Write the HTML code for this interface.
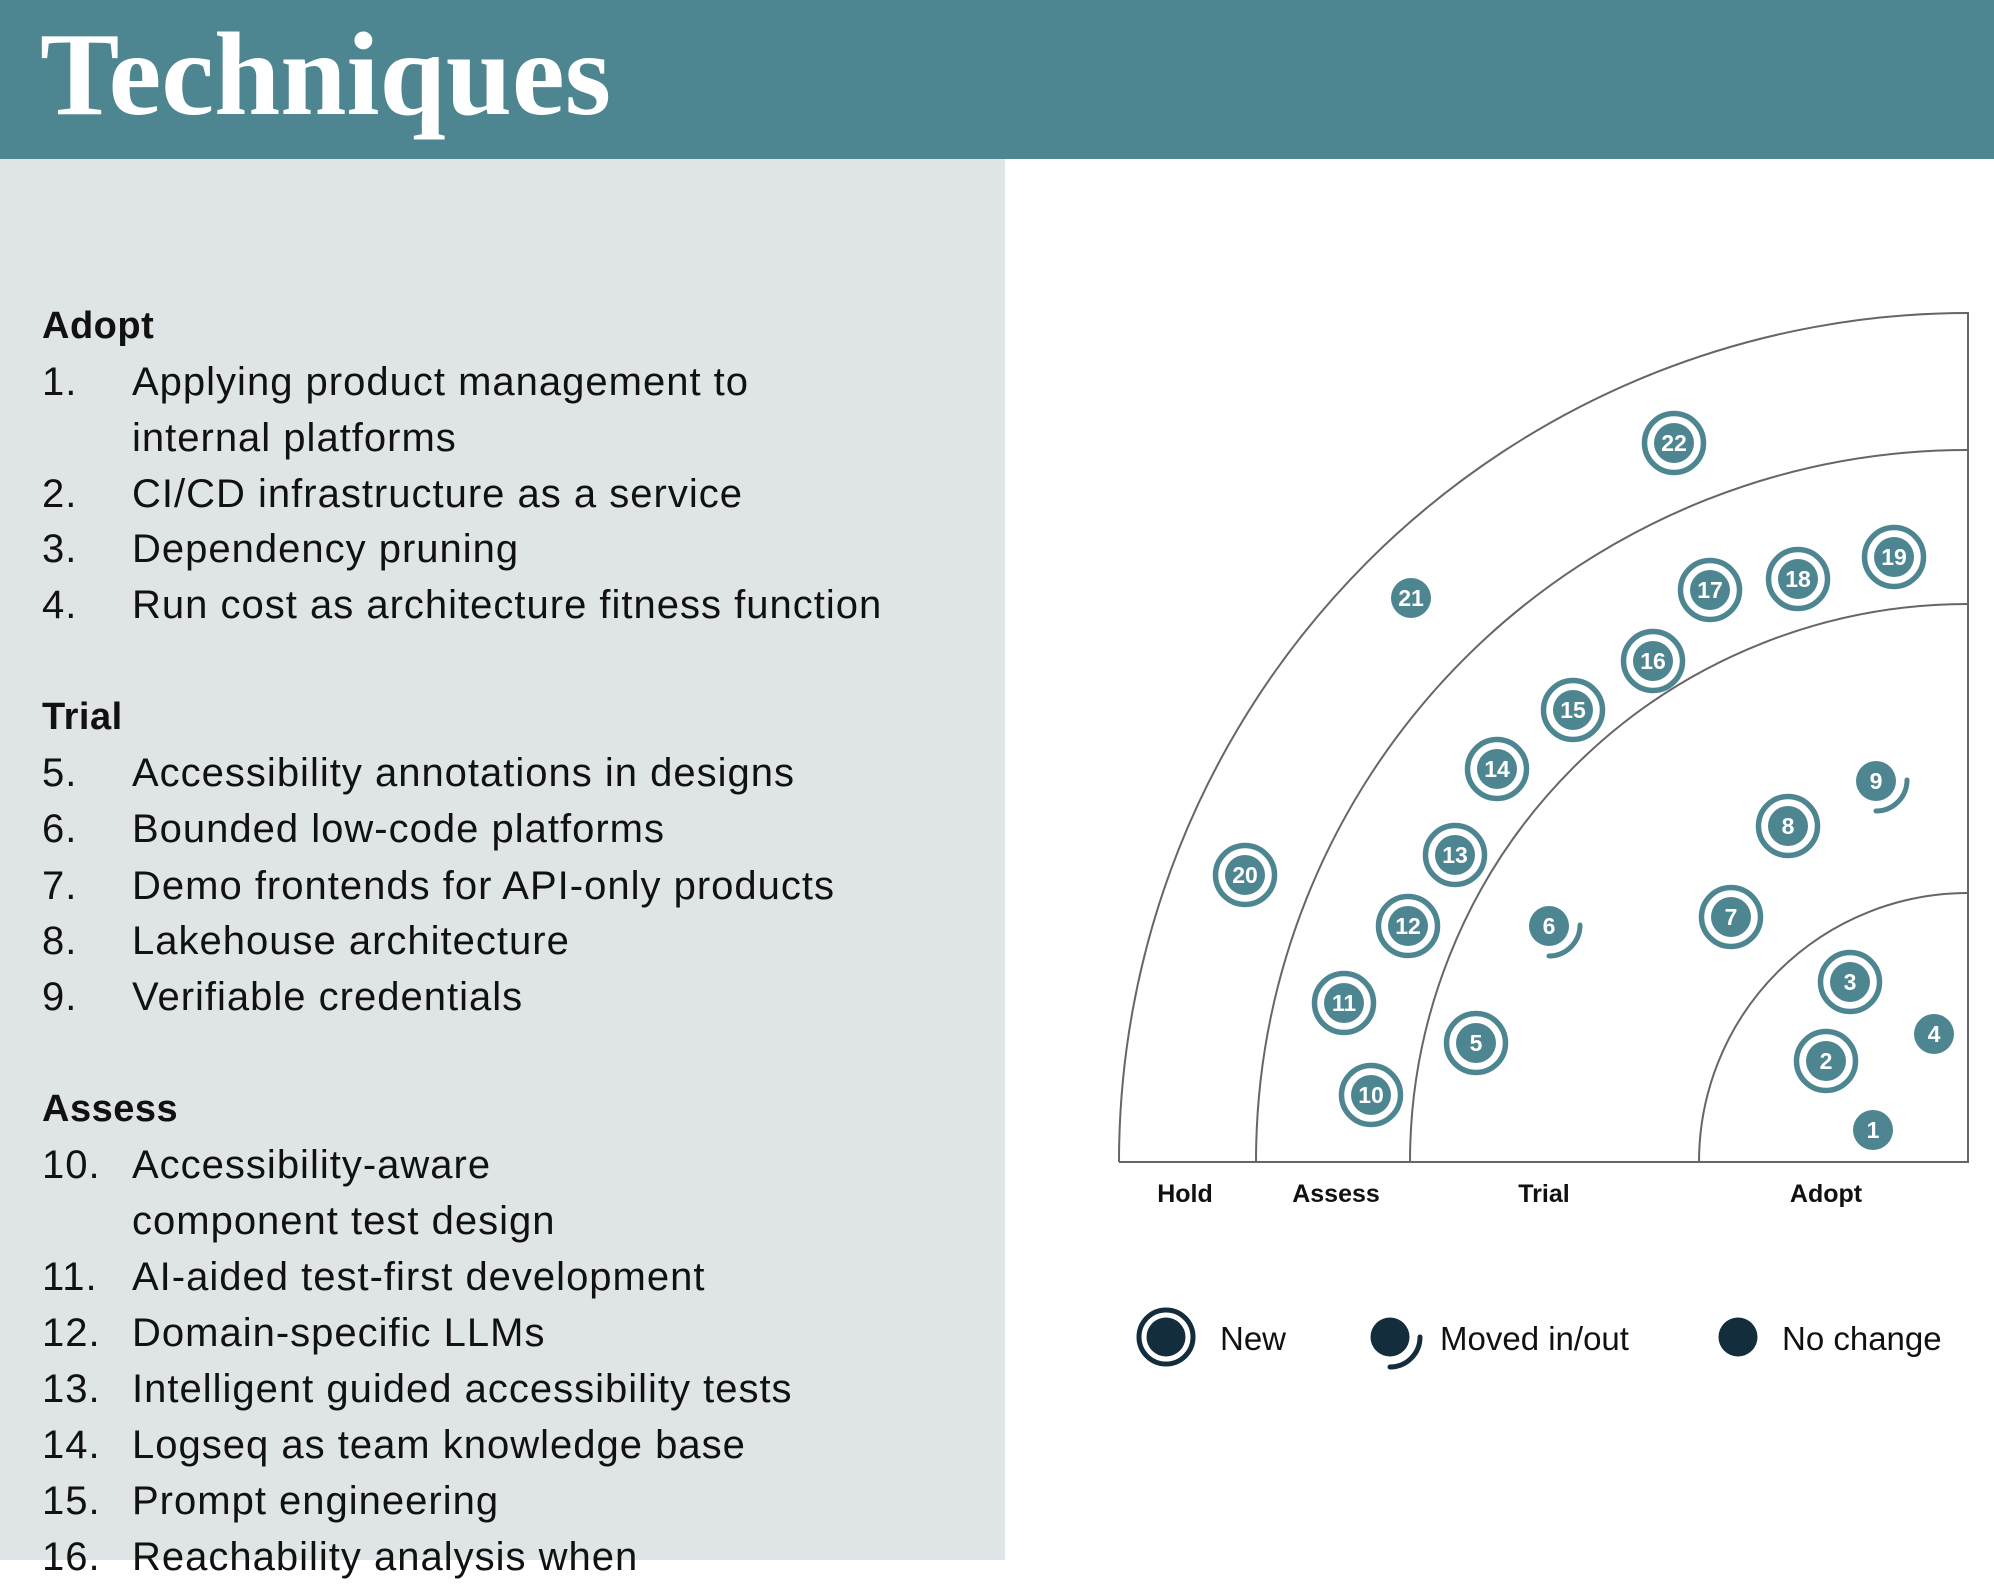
<!DOCTYPE html>
<html><head><meta charset="utf-8"><style>
body{margin:0;width:1994px;height:1560px;overflow:hidden;background:#fff;font-family:"Liberation Sans",sans-serif;position:relative}
#hdr{position:absolute;left:0;top:0;width:1994px;height:159px;background:#4d8591}
#hdr div{position:absolute;left:40px;top:14px;font-family:"Liberation Serif",serif;font-weight:bold;font-size:119px;color:#fff;line-height:120px}
#panel{position:absolute;left:0;top:159px;width:1005px;height:1401px;background:#dfe4e6}
.l{position:absolute;font-size:40px;letter-spacing:1px;line-height:56px;color:#111;white-space:nowrap}
.h{font-weight:bold;font-size:38px;letter-spacing:0.5px;left:42px}
.n{left:42px}.t{left:132px}
</style></head><body>
<div id="hdr"><div>Techniques</div></div>
<div id="panel"></div>
<div class="l h" style="top:298px">Adopt</div>
<div class="l n" style="top:354px">1.</div><div class="l t" style="top:354px">Applying product management to</div>
<div class="l t" style="top:410px">internal platforms</div>
<div class="l n" style="top:466px">2.</div><div class="l t" style="top:466px">CI/CD infrastructure as a service</div>
<div class="l n" style="top:521px">3.</div><div class="l t" style="top:521px">Dependency pruning</div>
<div class="l n" style="top:577px">4.</div><div class="l t" style="top:577px">Run cost as architecture fitness function</div>
<div class="l h" style="top:689px">Trial</div>
<div class="l n" style="top:745px">5.</div><div class="l t" style="top:745px">Accessibility annotations in designs</div>
<div class="l n" style="top:801px">6.</div><div class="l t" style="top:801px">Bounded low-code platforms</div>
<div class="l n" style="top:858px">7.</div><div class="l t" style="top:858px">Demo frontends for API-only products</div>
<div class="l n" style="top:913px">8.</div><div class="l t" style="top:913px">Lakehouse architecture</div>
<div class="l n" style="top:969px">9.</div><div class="l t" style="top:969px">Verifiable credentials</div>
<div class="l h" style="top:1081px">Assess</div>
<div class="l n" style="top:1137px">10.</div><div class="l t" style="top:1137px">Accessibility-aware</div>
<div class="l t" style="top:1193px">component test design</div>
<div class="l n" style="top:1249px">11.</div><div class="l t" style="top:1249px">AI-aided test-first development</div>
<div class="l n" style="top:1305px">12.</div><div class="l t" style="top:1305px">Domain-specific LLMs</div>
<div class="l n" style="top:1361px">13.</div><div class="l t" style="top:1361px">Intelligent guided accessibility tests</div>
<div class="l n" style="top:1417px">14.</div><div class="l t" style="top:1417px">Logseq as team knowledge base</div>
<div class="l n" style="top:1473px">15.</div><div class="l t" style="top:1473px">Prompt engineering</div>
<div class="l n" style="top:1529px">16.</div><div class="l t" style="top:1529px">Reachability analysis when</div>
<svg style="position:absolute;left:0;top:0" width="1994" height="1560" viewBox="0 0 1994 1560">
<g fill="none" stroke="#666" stroke-width="2">
<path d="M1968 312 L1968 1162 L1119 1162"/>
<path d="M1119 1162 A849 849 0 0 1 1968 313"/>
<path d="M1256 1162 A712 712 0 0 1 1968 450"/>
<path d="M1410 1162 A558 558 0 0 1 1968 604"/>
<path d="M1699 1162 A269 269 0 0 1 1968 893"/>
</g>
<g font-family="Liberation Sans,sans-serif" font-weight="bold" font-size="25" fill="#111" text-anchor="middle">
<text x="1185" y="1202">Hold</text><text x="1336" y="1202">Assess</text><text x="1544" y="1202">Trial</text><text x="1826" y="1202">Adopt</text>
</g>
<g id="b" font-family="Liberation Sans,sans-serif" font-weight="bold" font-size="23" fill="#fff" text-anchor="middle"></g>
<g fill="#132d3c">
<circle cx="1166" cy="1337" r="19.5"/><circle cx="1166" cy="1337" r="27" fill="none" stroke="#132d3c" stroke-width="5"/>
<circle cx="1390" cy="1337" r="19.5"/><path d="M1420 1337 A30 30 0 0 1 1390 1367" fill="none" stroke="#132d3c" stroke-width="5" stroke-linecap="round"/>
<circle cx="1738" cy="1337" r="19.5"/>
</g>
<g font-family="Liberation Sans,sans-serif" font-size="33" fill="#111">
<text x="1220" y="1350">New</text><text x="1440" y="1350">Moved in/out</text><text x="1782" y="1350">No change</text>
</g>
</svg>
<script>
var B=[[1,1873,1130,'o'],[2,1826,1061,'n'],[3,1850,982,'n'],[4,1934,1034,'o'],[5,1476,1043,'n'],[6,1549,926,'m'],[7,1731,917,'n'],[8,1788,826,'n'],[9,1876,781,'m'],[10,1371,1095,'n'],[11,1344,1003,'n'],[12,1408,926,'n'],[13,1455,855,'n'],[14,1497,769,'n'],[15,1573,710,'n'],[16,1653,661,'n'],[17,1710,590,'n'],[18,1798,579,'n'],[19,1894,557,'n'],[20,1245,875,'n'],[21,1411,598,'o'],[22,1674,443,'n']];
var g=document.getElementById('b'),s='',C='#4d8591';
B.forEach(function(b){var x=b[1],y=b[2];
s+='<circle cx="'+x+'" cy="'+y+'" r="20" fill="'+C+'"/>';
if(b[3]=='n')s+='<circle cx="'+x+'" cy="'+y+'" r="29.5" fill="none" stroke="'+C+'" stroke-width="5.5"/>';
if(b[3]=='m')s+='<path d="M'+(x+31)+' '+(y-1)+' A31 31 0 0 1 '+(x)+' '+(y+30)+'" fill="none" stroke="'+C+'" stroke-width="5" stroke-linecap="round"/>';
s+='<text x="'+x+'" y="'+(y+8)+'">'+b[0]+'</text>';});
g.innerHTML=s;
</script>
</body></html>
